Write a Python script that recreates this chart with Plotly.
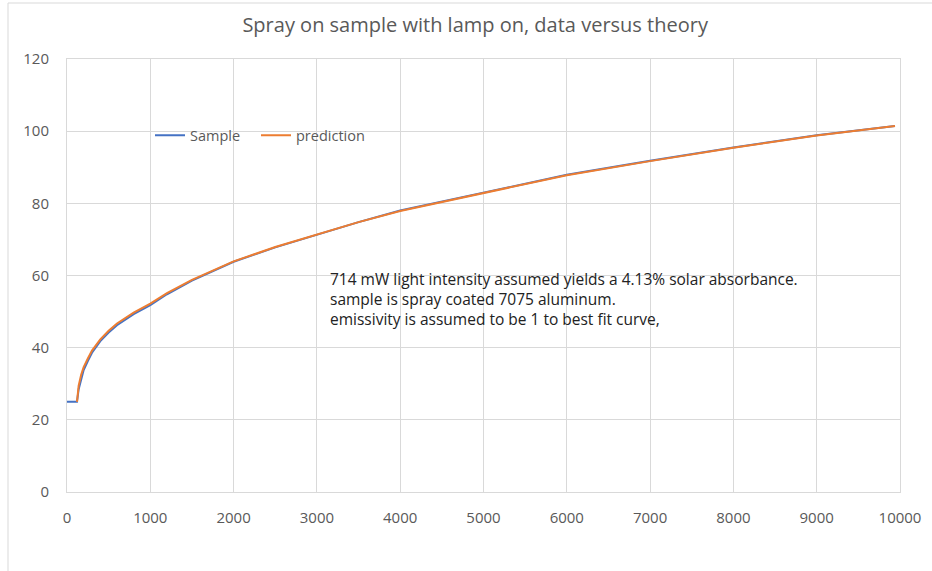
import plotly.graph_objects as go

title_text = "Spray on sample with lamp on, data versus theory"

sample_x = [0, 120, 140, 170, 200, 250, 300, 400, 500, 600, 800, 1000, 1200, 1500,
            2000, 2500, 3000, 3500, 4000, 5000, 6000, 7000, 8000, 9000, 9940]
sample_y = [25, 25, 28.5, 31.5, 33.8, 36.3, 38.6, 41.8, 44.2, 46.2, 49.3, 51.8, 54.8, 58.6,
            63.8, 67.8, 71.3, 74.8, 78.0, 83.0, 87.9, 91.8, 95.5, 98.9, 101.4]

pred_x = [120, 140, 170, 200, 250, 300, 400, 500, 600, 800, 1000, 1200, 1500,
          2000, 2500, 3000, 3500, 4000, 5000, 6000, 7000, 8000, 9000, 9940]
pred_y = [25, 29.5, 32.5, 34.6, 37.0, 39.2, 42.3, 44.7, 46.7, 49.7, 52.2, 55.1, 58.8,
          63.9, 67.9, 71.3, 74.8, 77.9, 82.9, 87.8, 91.7, 95.4, 98.8, 101.4]

x_ticks = [0, 1000, 2000, 3000, 4000, 5000, 6000, 7000, 8000, 9000, 10000]
y_ticks = [0, 20, 40, 60, 80, 100, 120]

note_lines = [
    "714 mW light intensity assumed yields a 4.13% solar absorbance.",
    "sample is spray coated 7075 aluminum.",
    "emissivity is assumed to be 1 to best fit curve,",
]

FONT = "Open Sans"
GRAY = "#595959"
GRID = "#d9d9d9"

fig = go.Figure()
fig.add_trace(go.Scatter(x=sample_x, y=sample_y, mode="lines", name="Sample",
                         line=dict(color="#4472C4", width=2), legend="legend"))
fig.add_trace(go.Scatter(x=pred_x, y=pred_y, mode="lines", name="prediction",
                         line=dict(color="#ED7D31", width=2), legend="legend2"))

leg_common = dict(orientation="h", y=0.824, xanchor="left", yanchor="middle",
                  bgcolor="rgba(0,0,0,0)", font=dict(family=FONT, size=14.5, color=GRAY),
                  itemwidth=30)

fig.update_layout(
    width=932, height=571,
    margin=dict(l=67, r=32, t=59, b=79),
    paper_bgcolor="white", plot_bgcolor="white",
    font=dict(family=FONT, size=15, color=GRAY),
    title=dict(text=title_text, x=0.49, xref="paper", y=1 - 25 / 571, yanchor="middle",
               xanchor="center", font=dict(family=FONT, size=20, color=GRAY)),
    showlegend=True,
    legend=dict(x=(150 - 67) / 833, **leg_common),
    legend2=dict(x=(256 - 67) / 833, **leg_common),
    xaxis=dict(range=[0, 10000], tickvals=x_ticks, ticktext=[str(v) for v in x_ticks],
               showgrid=True, gridcolor=GRID, gridwidth=1, zeroline=False,
               showline=True, linecolor=GRID, mirror=True, ticks="",
               ticklabelstandoff=12, tickfont=dict(family=FONT, size=15, color=GRAY)),
    yaxis=dict(range=[0, 120], tickvals=y_ticks, ticktext=[str(v) for v in y_ticks],
               showgrid=True, gridcolor=GRID, gridwidth=1, zeroline=False,
               showline=True, linecolor=GRID, mirror=True, ticks="",
               ticklabelstandoff=14, tickfont=dict(family=FONT, size=15, color=GRAY)),
)

fig.add_annotation(text="<br>".join(note_lines), x=3133, y=62.7, xref="x", yref="y",
                   xanchor="left", yanchor="top", align="left", showarrow=False,
                   font=dict(family=FONT, size=15.5, color="#222222"))

# outer chart frame (left and top edges)
fig.add_shape(type="line", xref="paper", yref="paper",
              x0=(8 - 67) / 833, x1=(932 - 67) / 833, y0=(492 - 3) / 433, y1=(492 - 3) / 433,
              line=dict(color=GRID, width=1))
fig.add_shape(type="line", xref="paper", yref="paper",
              x0=(8 - 67) / 833, x1=(8 - 67) / 833, y0=(492 - 3) / 433, y1=(492 - 571) / 433,
              line=dict(color=GRID, width=1))

fig.write_html("out.html")
